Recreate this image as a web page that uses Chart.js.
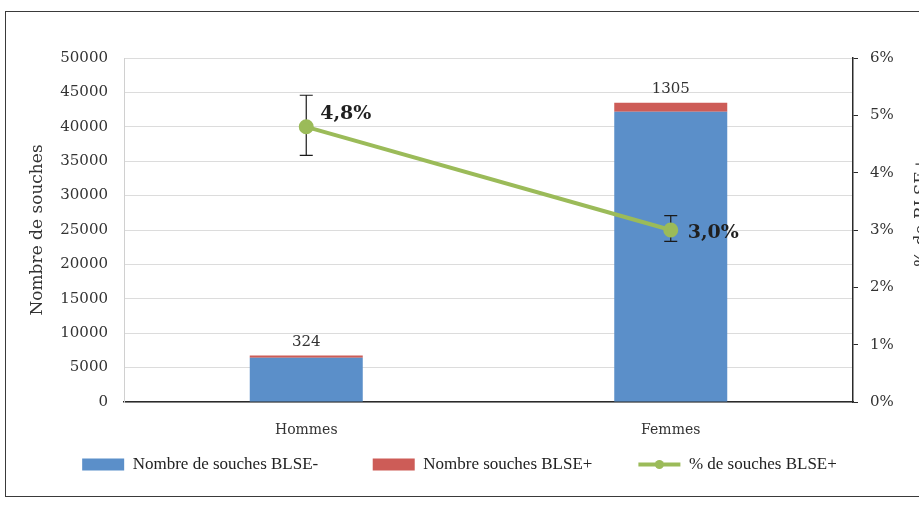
<!DOCTYPE html>
<html><head><meta charset="utf-8">
<script src="https://cdn.jsdelivr.net/npm/chart.js@4"></script>
<style>
html,body{margin:0;padding:0;background:#fff;overflow:hidden;width:919px;height:513px}
#frame{position:absolute;left:5px;top:11px;width:940px;height:486px;border:1.5px solid #3a3a3a;box-sizing:border-box}
#wrap{position:absolute;left:0;top:0;width:919px;height:513px}
</style></head><body>
<div id="frame"></div>
<div id="wrap"><canvas id="c"></canvas></div>
<script>
const categories = ['Hommes', 'Femmes'];
const blseNeg = [6426, 42195];
const blsePos = [324, 1305];
const pctBlse = [4.8, 3.0];
const pctLow = [4.3, 2.8];
const pctHigh = [5.35, 3.25];
const pctLabels = ['4,8%', '3,0%'];
const seriesNames = ['Nombre de souches BLSE-', 'Nombre souches BLSE+', '% de souches BLSE+'];
const leftTitle = 'Nombre de souches';
const rightTitle = '% de BLSE+';

const SERIF = "'DejaVu Serif', serif";
const COND = "'Liberation Serif', serif";
const BLUE = '#5B8FC9', RED = '#CD5C57', GREEN = '#9BBB59';

const extras = {
  id: 'extras',
  beforeDatasetDraw(chart, args) {
    if (args.index !== 2) return;
    const ctx = chart.ctx, x = chart.scales.x, y1 = chart.scales.y1;
    ctx.save();
    ctx.strokeStyle = '#1a1a1a'; ctx.lineWidth = 1.2;
    pctBlse.forEach((v, i) => {
      const px = x.getPixelForValue(i);
      const lo = y1.getPixelForValue(pctLow[i]), hi = y1.getPixelForValue(pctHigh[i]);
      ctx.beginPath();
      ctx.moveTo(px, lo); ctx.lineTo(px, hi);
      ctx.moveTo(px - 6.5, lo); ctx.lineTo(px + 6.5, lo);
      ctx.moveTo(px - 6.5, hi); ctx.lineTo(px + 6.5, hi);
      ctx.stroke();
    });
    ctx.restore();
  },
  afterDraw(chart) {
    const ctx = chart.ctx, x = chart.scales.x, y = chart.scales.y, y1 = chart.scales.y1;
    ctx.save();
    ctx.fillStyle = '#333'; ctx.font = '15px ' + SERIF;
    ctx.textAlign = 'center'; ctx.textBaseline = 'bottom';
    blsePos.forEach((v, i) => {
      ctx.fillText(String(v), x.getPixelForValue(i), y.getPixelForValue(blseNeg[i] + v) - 6);
    });
    const offs = [[14, -13], [17, 3]];
    ctx.fillStyle = '#1f1f1f'; ctx.font = 'bold 19px ' + SERIF;
    ctx.textAlign = 'left'; ctx.textBaseline = 'middle';
    pctBlse.forEach((v, i) => {
      ctx.fillText(pctLabels[i], x.getPixelForValue(i) + offs[i][0], y1.getPixelForValue(v) + offs[i][1]);
    });
    ctx.save();
    ctx.translate(922, 212); ctx.rotate(-Math.PI / 2);
    ctx.font = '17px ' + SERIF; ctx.fillStyle = '#333'; ctx.textAlign = 'center'; ctx.textBaseline = 'middle';
    ctx.fillText(rightTitle, 0, 0);
    ctx.restore();
    const lg = chart.legend;
    if (lg && lg.legendHitBoxes) {
      const idx = lg.legendItems.findIndex(it => it.datasetIndex === 2);
      const hb = lg.legendHitBoxes[idx];
      if (hb) {
        ctx.fillStyle = GREEN; ctx.beginPath();
        ctx.arc(hb.left + 21, hb.top + hb.height / 2, 4.5, 0, Math.PI * 2); ctx.fill();
      }
    }
    ctx.restore();
  }
};

new Chart(document.getElementById('c'), {
  data: {
    labels: categories,
    datasets: [
      { type: 'bar', label: seriesNames[0], data: blseNeg, backgroundColor: BLUE, yAxisID: 'y', order: 1, stack: 's' },
      { type: 'bar', label: seriesNames[1], data: blsePos, backgroundColor: RED, yAxisID: 'y', order: 1, stack: 's' },
      { type: 'line', label: seriesNames[2], data: pctBlse, borderColor: GREEN, backgroundColor: GREEN, borderWidth: 4, pointRadius: 5.5, pointBackgroundColor: GREEN, pointBorderColor: GREEN, yAxisID: 'y1', order: 0 }
    ]
  },
  options: {
    responsive: true, maintainAspectRatio: false, animation: false,
    layout: { padding: { top: 58, left: 0, right: 0, bottom: 30 } },
    datasets: { bar: { categoryPercentage: 1, barPercentage: 0.31 } },
    scales: {
      x: {
        stacked: true,
        grid: { display: false, drawTicks: false },
        border: { display: true, color: '#2a2a2a', width: 1.5 },
        ticks: { padding: 20, color: '#333', font: { family: SERIF, size: 14 } },
        afterFit(s) { s.height = 42; }
      },
      y: {
        position: 'left', stacked: true, min: 0, max: 50000,
        ticks: { stepSize: 5000, padding: 16, color: '#333', font: { family: SERIF, size: 15 }, callback: v => String(v) },
        grid: { color: '#dcdcdc', drawTicks: false },
        border: { display: true, color: '#d0d0d0' },
        title: { display: true, text: leftTitle, color: '#333', font: { family: SERIF, size: 17 }, padding: { top: 27, bottom: 0 } },
        afterFit(s) { s.width = 124; }
      },
      y1: {
        position: 'right', stacked: false, min: 0, max: 6,
        ticks: { stepSize: 1, padding: 12, color: '#333', font: { family: SERIF, size: 15 }, callback: v => v + '%' },
        grid: { drawOnChartArea: false, tickLength: 5, color: '#2a2a2a' },
        border: { display: true, color: '#2a2a2a', width: 1.5 },
        afterFit(s) { s.width = 919 - 853; }
      }
    },
    plugins: {
      tooltip: { enabled: false },
      legend: {
        position: 'bottom',
        labels: {
          usePointStyle: true, pointStyleWidth: 42, boxHeight: 12, padding: 12,
          color: '#222', font: { family: COND, size: 17 },
          generateLabels(chart) {
            const items = Chart.defaults.plugins.legend.labels.generateLabels(chart);
            items.sort((a, b) => a.datasetIndex - b.datasetIndex);
            items.forEach(it => {
              if (it.datasetIndex === 2) { it.pointStyle = 'line'; it.lineWidth = 4; it.strokeStyle = GREEN; }
              else {
                it.pointStyle = 'rect'; it.lineWidth = 0;
                it.text = it.text + (it.datasetIndex === 0 ? '\u2003\u2003\u2002' : '\u2003\u2003');
              }
            });
            return items;
          }
        }
      }
    }
  },
  plugins: [extras]
});
</script>
</body></html>
